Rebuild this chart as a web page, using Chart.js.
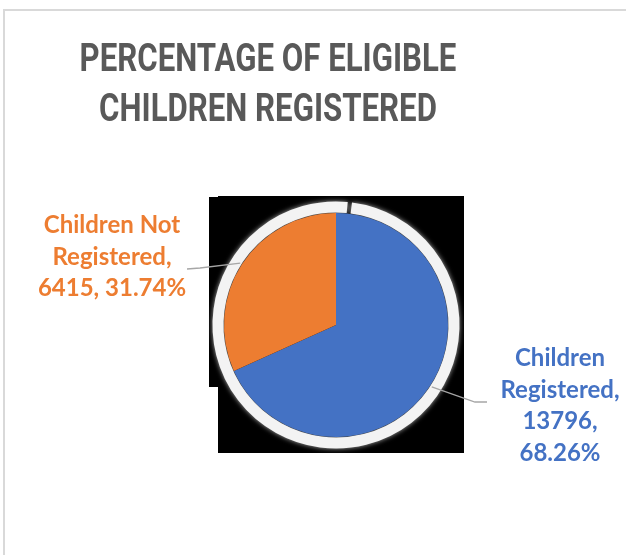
<!DOCTYPE html>
<html>
<head>
<meta charset="utf-8">
<script src="https://cdn.jsdelivr.net/npm/chart.js@4.4.1/dist/chart.umd.min.js"></script>
<style>
  html, body { margin: 0; padding: 0; background: #fff; overflow: hidden; }
  #wrap { position: relative; width: 626px; height: 555px; }
  #frame { position: absolute; left: 3px; top: 9px; width: 700px; height: 700px;
           border-left: 2px solid #d9d9d9; border-top: 2px solid #d9d9d9; }
  canvas { position: absolute; left: 0; top: 0; }
</style>
</head>
<body>
<div id="wrap">
  <div id="frame"></div>
  <canvas id="pieChart" width="626" height="555"></canvas>
</div>
<script>
// chart data
const categories = ['Children Registered', 'Children Not Registered'];
const counts = [13796, 6415];
const percents = [68.26, 31.74];
const sliceColors = ['#4472C4', '#ED7D31'];
const titleLines = ['PERCENTAGE OF ELIGIBLE', 'CHILDREN REGISTERED'];

// where each data label sits, relative to the pie centre
const LABEL_LAYOUT = [
  { wrap: 138, cx: 224, cy: 81, elbow: [139, 77], end: [151, 77] },
  { wrap: 160, cx: -224, cy: -68, elbow: [-136, -57], end: [-149, -56] }
];

const labelFont = 'bold 24px Lato, "Open Sans", sans-serif';

function wrapText(ctx, text, maxWidth) {
  const words = text.split(' ');
  const lines = [];
  let line = '';
  words.forEach(w => {
    const test = line ? line + ' ' + w : w;
    if (line && ctx.measureText(test).width > maxWidth) {
      lines.push(line);
      line = w;
    } else {
      line = test;
    }
  });
  if (line) lines.push(line);
  return lines;
}

// black backdrop + white glow ring behind the pie
const backdropPlugin = {
  id: 'backdrop',
  beforeDatasetsDraw(chart) {
    const arc = chart.getDatasetMeta(0).data[0];
    if (!arc) return;
    const { x, y, outerRadius: r } = arc;
    const ctx = chart.ctx;
    ctx.save();
    ctx.fillStyle = '#000';
    ctx.fillRect(x - 118, y - 129, 246, 257);
    ctx.fillRect(x - 127, y - 128, 10, 190);
    ctx.shadowColor = 'rgba(170,170,170,1)';
    ctx.shadowBlur = 5;
    ctx.strokeStyle = '#f3f3f3';
    ctx.lineWidth = 11;
    const a0 = -Math.PI / 2;
    ctx.beginPath();
    ctx.arc(x, y, r + 6, a0 + 0.13, a0 + 2 * Math.PI + 0.095);
    ctx.stroke();
    ctx.restore();
  }
};

// leader lines, data labels and title
const labelPlugin = {
  id: 'sliceLabels',
  afterDatasetsDraw(chart) {
    const ctx = chart.ctx;
    const meta = chart.getDatasetMeta(0);
    ctx.save();
    ctx.font = labelFont;
    ctx.textAlign = 'center';
    ctx.textBaseline = 'middle';
    meta.data.forEach((arc, i) => {
      const lay = LABEL_LAYOUT[i];
      const mid = (arc.startAngle + arc.endAngle) / 2;
      const sx = arc.x + Math.cos(mid) * (arc.outerRadius + 2);
      const sy = arc.y + Math.sin(mid) * (arc.outerRadius + 2);
      ctx.strokeStyle = '#a6a6a6';
      ctx.lineWidth = 1.3;
      ctx.beginPath();
      ctx.moveTo(sx, sy);
      ctx.lineTo(arc.x + lay.elbow[0], arc.y + lay.elbow[1]);
      ctx.lineTo(arc.x + lay.end[0], arc.y + lay.end[1]);
      ctx.stroke();

      const text = categories[i] + ', ' + counts[i] + ', ' + percents[i].toFixed(2) + '%';
      const lines = wrapText(ctx, text, lay.wrap);
      const lh = 31.5;
      const top = arc.y + lay.cy - (lines.length - 1) * lh / 2;
      ctx.fillStyle = sliceColors[i];
      lines.forEach((ln, k) => ctx.fillText(ln, arc.x + lay.cx, top + k * lh));
    });

    // title, condensed like the original
    ctx.fillStyle = '#595959';
    ctx.font = 'bold 39px Roboto, sans-serif';
    ctx.textBaseline = 'alphabetic';
    titleLines.forEach((t, k) => {
      ctx.save();
      ctx.translate(268, 71 + k * 50);
      ctx.scale(0.8, 1);
      ctx.fillText(t, 0, 0);
      ctx.restore();
    });
    ctx.restore();
  }
};

const ctx = document.getElementById('pieChart').getContext('2d');
new Chart(ctx, {
  type: 'pie',
  data: {
    labels: categories,
    datasets: [{
      data: counts,
      backgroundColor: sliceColors,
      borderWidth: 0,
      hoverOffset: 0
    }]
  },
  options: {
    responsive: false,
    animation: false,
    layout: { padding: { top: 213, bottom: 118, left: 224, right: 178 } },
    plugins: {
      legend: { display: false },
      title: { display: false },
      tooltip: { enabled: false }
    }
  },
  plugins: [backdropPlugin, labelPlugin]
});
</script>
</body>
</html>
